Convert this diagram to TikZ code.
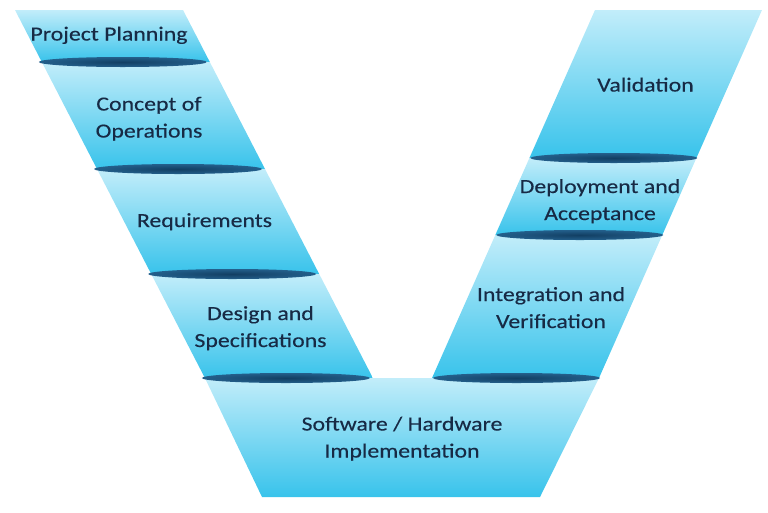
\documentclass[tikz,border=0pt]{standalone}
\usepackage{fontspec}
\setmainfont{Carlito}[FakeStretch=1.19,FakeBold=0.3]
\definecolor{bandtop}{HTML}{C2EDFA}
\definecolor{bandmid}{HTML}{7AD9F3}
\definecolor{bandbot}{HTML}{38C3EB}
\definecolor{ellin}{HTML}{123F63}
\definecolor{ellout}{HTML}{235F8B}
\definecolor{txt}{HTML}{172A45}
\tikzset{
  band/.style={top color=bandtop,middle color=bandmid,bottom color=bandbot,draw=none},
  rim/.style={inner color=ellin,outer color=ellout,draw=none},
  lbl/.style={font=\fontsize{20}{27}\selectfont,text=txt,align=center,inner sep=0pt,anchor=base}
}
\begin{document}
\begin{tikzpicture}[x=1pt,y=-1pt]
\useasboundingbox (0,0) rectangle (768,512);
% left arm bands
\shade[band] (15,10) -- (183,10) -- (209.8,62) -- (41.8,62) -- cycle;
\shade[band] (41.8,62) -- (209.8,62) -- (265,169) -- (97,169) -- cycle;
\shade[band] (97,169) -- (265,169) -- (319.2,274) -- (151.2,274) -- cycle;
\shade[band] (151.2,274) -- (319.2,274) -- (372.9,378) -- (204.9,378) -- cycle;
% right arm bands
\shade[band] (595,10) -- (762,10) -- (696.4,158) -- (529.4,158) -- cycle;
\shade[band] (529.4,158) -- (696.4,158) -- (662.3,235) -- (495.3,235) -- cycle;
\shade[band] (495.3,235) -- (662.3,235) -- (599,378) -- (432,378) -- cycle;
% bottom
\shade[band] (204.9,378) -- (599,378) -- (540,497) -- (262,497) -- cycle;
% rims
\shade[rim] (122.8,62) ellipse [x radius=84,y radius=5];
\shade[rim] (178,169) ellipse [x radius=84,y radius=5];
\shade[rim] (232.2,274) ellipse [x radius=84,y radius=5];
\shade[rim] (285.9,378) ellipse [x radius=84,y radius=5];
\shade[rim] (613.9,158) ellipse [x radius=83.5,y radius=5];
\shade[rim] (579.8,235) ellipse [x radius=83.5,y radius=5];
\shade[rim] (516.5,378) ellipse [x radius=83.5,y radius=5];
% labels (base = last line's baseline)
\node[lbl] (pp) at (109,40.5) {Project Planning};
\node[lbl] (co) at (149,137.5) {Concept of\\Operations};
\node[lbl] (rq) at (204.5,227) {Requirements};
\node[lbl] (ds) at (260.5,347) {Design and\\Specifications};
\node[lbl] (va) at (645.5,91.5) {Validation};
\node[lbl] (da) at (600,220) {Deployment and\\Acceptance};
\node[lbl] (iv) at (551,328) {Integration and\\Verification};
\node[lbl] (sh) at (402,457.5) {Software / Hardware\\Implementation};
\end{tikzpicture}
\end{document}
